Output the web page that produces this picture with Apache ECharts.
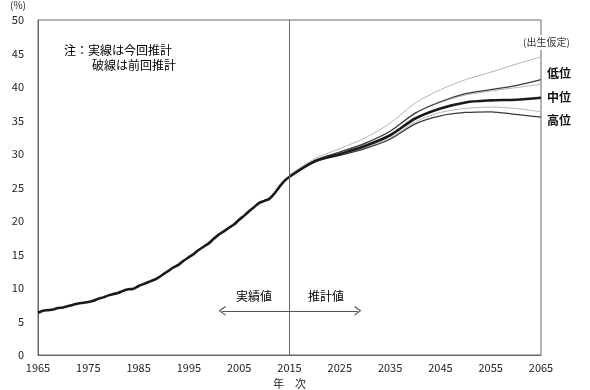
<!DOCTYPE html>
<html>
<head>
<meta charset="utf-8">
<script src="https://cdn.jsdelivr.net/npm/echarts@6/dist/echarts.min.js"></script>
<style>html,body{margin:0;padding:0;background:#fff}#c{width:590px;height:390px}</style>
</head>
<body>
<div id="c"></div>
<script>
// Actual values (annual)
const actualYears = [1965,1966,1967,1968,1969,1970,1971,1972,1973,1974,1975,1976,1977,1978,1979,1980,1981,1982,1983,1984,1985,1986,1987,1988,1989,1990,1991,1992,1993,1994,1995,1996,1997,1998,1999,2000,2001,2002,2003,2004,2005,2006,2007,2008,2009,2010,2011,2012,2013,2014,2015];
const actualValues = [6.3,6.6,6.7,6.8,7.0,7.1,7.3,7.5,7.7,7.8,7.9,8.1,8.4,8.6,8.9,9.1,9.3,9.6,9.8,9.9,10.3,10.6,10.9,11.2,11.6,12.1,12.6,13.1,13.5,14.1,14.6,15.1,15.7,16.2,16.7,17.4,18.0,18.5,19.0,19.5,20.2,20.8,21.5,22.1,22.7,23.0,23.3,24.1,25.1,26.0,26.6];
// Projections (every 5 years)
const projYears = [2015,2020,2025,2030,2035,2040,2045,2050,2055,2060,2065];
const curMedium = [26.6,28.9,30.0,31.2,32.8,35.3,36.8,37.7,38.0,38.1,38.4];
const curLow    = [26.6,29.0,30.3,31.6,33.4,36.1,37.8,39.0,39.6,40.2,41.1];
const curHigh   = [26.6,28.8,29.8,30.8,32.2,34.5,35.7,36.2,36.3,35.9,35.5];
const prevMedium = [26.8,29.1,30.3,31.6,33.4,36.1,37.7,38.8,39.4,39.9,40.4];
const prevLow    = [26.9,29.3,30.8,32.4,34.6,37.6,39.6,41.1,42.2,43.4,44.5];
const prevHigh   = [26.7,28.9,29.9,30.9,32.4,34.8,36.2,36.8,37.0,36.8,36.3];
const yTicks = [0,5,10,15,20,25,30,35,40,45,50];
const xTicks = [1965,1975,1985,1995,2005,2015,2025,2035,2045,2055,2065];
const boundaryYear = 2015;
const arrowFrom = 2001.6, arrowTo = 2028.6, arrowLevel = 6.6;

const FONT = '"Noto Sans CJK JP", sans-serif';
const pair = (xs, ys) => xs.map((x, i) => [x, ys[i]]);
const lbl = (t, off) => ({show:true, formatter:t, offset:off, distance:6, color:'#111', fontSize:12, fontFamily:FONT, fontWeight:'bold'});
const chevron = 'path://M0,10 L5,0 L10,10 L8.6,10 L5,2.6 L1.4,10 Z';

const chart = echarts.init(document.getElementById('c'), null, {renderer:'canvas'});
chart.setOption({
  animation:false,
  backgroundColor:'#fff',
  grid:{left:38, right:49, top:20, bottom:35, outerBoundsMode:'none', containLabel:false,
    show:true, borderColor:'#666', borderWidth:1},
  xAxis:{type:'value', min:1965, max:2065, interval:10,
    name:'年　次', nameLocation:'middle', nameGap:22,
    nameTextStyle:{color:'#222', fontSize:11, fontFamily:FONT},
    axisLine:{show:true, lineStyle:{color:'#666'}}, axisTick:{show:false}, splitLine:{show:false},
    axisLabel:{color:'#222', fontSize:11, fontFamily:FONT, margin:7,
      formatter:v => xTicks.includes(v) ? String(v) : ''}},
  yAxis:{type:'value', min:0, max:50, interval:5,
    axisLine:{show:true, lineStyle:{color:'#666'}}, axisTick:{show:false}, splitLine:{show:false},
    axisLabel:{color:'#222', fontSize:11, fontFamily:FONT, margin:14,
      formatter:v => yTicks.includes(v) ? String(v) : ''}},
  series:[
    {type:'line', data:pair(projYears, prevLow), showSymbol:false, smooth:0.3, lineStyle:{color:'#b5b5b5', width:1}, z:2},
    {type:'line', data:pair(projYears, prevMedium), showSymbol:false, smooth:0.3, lineStyle:{color:'#b5b5b5', width:1}, z:2},
    {type:'line', data:pair(projYears, prevHigh), showSymbol:false, smooth:0.3, lineStyle:{color:'#b5b5b5', width:1}, z:2},
    {type:'line', data:pair(projYears, curLow), showSymbol:false, smooth:0.3, lineStyle:{color:'#3a3a3a', width:1.3}, z:3,
      endLabel:lbl('低位', [0,-6])},
    {type:'line', data:pair(projYears, curHigh), showSymbol:false, smooth:0.3, lineStyle:{color:'#3a3a3a', width:1.3}, z:3,
      endLabel:lbl('高位', [0,3])},
    {type:'line', data:pair(projYears, curMedium), showSymbol:false, smooth:0.3, lineStyle:{color:'#1a1a1a', width:2.6}, z:4,
      endLabel:lbl('中位', [0,0])},
    {type:'line', data:pair(actualYears, actualValues), showSymbol:false, smooth:0.3, lineStyle:{color:'#1a1a1a', width:2.6}, z:4,
      markLine:{silent:true, symbol:['none','none'], label:{show:false},
        lineStyle:{color:'#666', width:1, type:'solid'},
        data:[{xAxis:boundaryYear}]}},
    {type:'line', data:[], markLine:{silent:true, symbol:[chevron, chevron], symbolSize:[10,7],
        itemStyle:{color:'#555'},
        label:{show:false}, lineStyle:{color:'#555', width:1, type:'solid'},
        data:[[{coord:[arrowFrom, arrowLevel]},{coord:[arrowTo, arrowLevel]}]]}}
  ],
  graphic:[
    {type:'text', left:10, top:0, style:{text:'(%)', fill:'#222', font:'10px '+FONT}},
    {type:'text', left:64, top:44, style:{text:'注：実線は今回推計', fill:'#000', font:'12px '+FONT}},
    {type:'text', left:92, top:59, style:{text:'破線は前回推計', fill:'#000', font:'12px '+FONT}},
    {type:'text', left:236, top:290, style:{text:'実績値', fill:'#000', font:'12px '+FONT}},
    {type:'text', left:308, top:290, style:{text:'推計値', fill:'#000', font:'12px '+FONT}},
    {type:'text', left:522, top:35, style:{text:'(出生仮定)', fill:'#333', font:'10px '+FONT, backgroundColor:'#fff', padding:[2,1,3,1]}, z:100}
  ]
});
</script>
</body>
</html>
